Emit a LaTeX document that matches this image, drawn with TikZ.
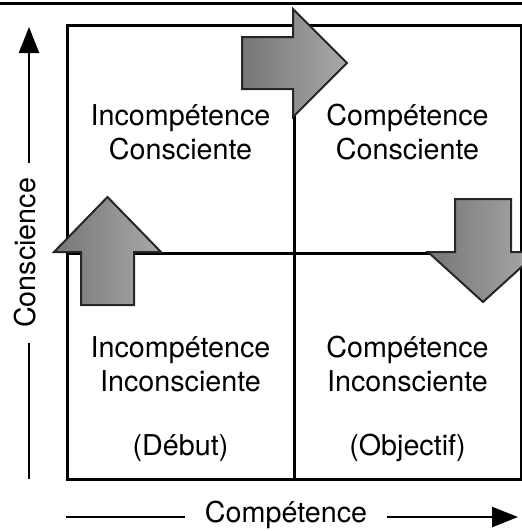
\documentclass[tikz,border=0pt]{standalone}
\usepackage{fontspec}
\setmainfont{TeX Gyre Heros}
\usetikzlibrary{arrows.meta}
\definecolor{arrowdark}{HTML}{767676}
\definecolor{arrowlight}{HTML}{A9A9A9}
\definecolor{arrowedge}{HTML}{262626}
\begin{document}
\begin{tikzpicture}[x=1pt,y=-1pt,
  frame/.style={line width=3pt,line cap=rect},
  rule/.style={line width=3pt},
  axisline/.style={line width=2.5pt},
  axistip/.style={line width=2.5pt,-{Triangle[length=26pt,width=20pt]}},
  blockarrow/.style={draw=arrowedge,line width=2pt,line join=miter,
    left color=arrowdark,right color=arrowlight},
  lbl/.style={font=\fontsize{28.7}{34}\selectfont,align=center,text=black,inner sep=0pt}]
  \useasboundingbox (0,0) rectangle (522,531);
  \clip (0,0) rectangle (522,531);

  % top rule
  \draw[rule] (0,3) -- (522,3);

  % the 2x2 grid
  \coordinate (nw) at (67,25);
  \coordinate (se) at (521,479);
  \coordinate (mid) at (294,253);
  \draw[frame] (nw) rectangle (se);
  \draw[frame] (mid |- nw) -- (mid |- se);
  \draw[frame] (mid -| nw) -- (mid -| se);

  % block arrows between the quadrants
  \draw[blockarrow] (242,37) -- (293,37) -- (293,9) -- (347,63) -- (293,117)
    -- (293,89) -- (242,89) -- cycle;
  \draw[blockarrow] (81,305) -- (81,252) -- (54,252) -- (107.5,197) -- (161,252)
    -- (134,252) -- (134,305) -- cycle;
  \draw[blockarrow] (455,199) -- (511,199) -- (511,252) -- (538,252) -- (483,302)
    -- (428,252) -- (455,252) -- cycle;

  % quadrant labels
  \node[lbl] (q1) at (180.5,132) {Incompétence\\Consciente};
  \node[lbl] (q2) at (407.5,132) {Compétence\\Consciente};
  \node[lbl] (q3) at (180.5,364) {Incompétence\\Inconsciente};
  \node[lbl] (q4) at (407.5,364) {Compétence\\Inconsciente};
  \node[lbl] (q3b) at (180.5,448) {(Début)};
  \node[lbl] (q4b) at (407.5,448) {(Objectif)};

  % axes
  \node[lbl,anchor=base,inner xsep=19.5pt] (xlab) at (286,522) {Compétence};
  \coordinate (ax0) at (66,517);
  \coordinate (ax1) at (518,517);
  \draw[axisline] (ax0) -- (ax0 -| xlab.west);
  \draw[axistip] (ax1 -| xlab.east) -- (ax1);

  \node[lbl,rotate=90,anchor=base,inner xsep=15pt] (ylab) at (35,253) {Conscience};
  \coordinate (ay0) at (29,479);
  \coordinate (ay1) at (29,27);
  \draw[axisline] (ay0) -- (ay0 |- ylab.west);
  \draw[axistip] (ay1 |- ylab.east) -- (ay1);
\end{tikzpicture}
\end{document}
